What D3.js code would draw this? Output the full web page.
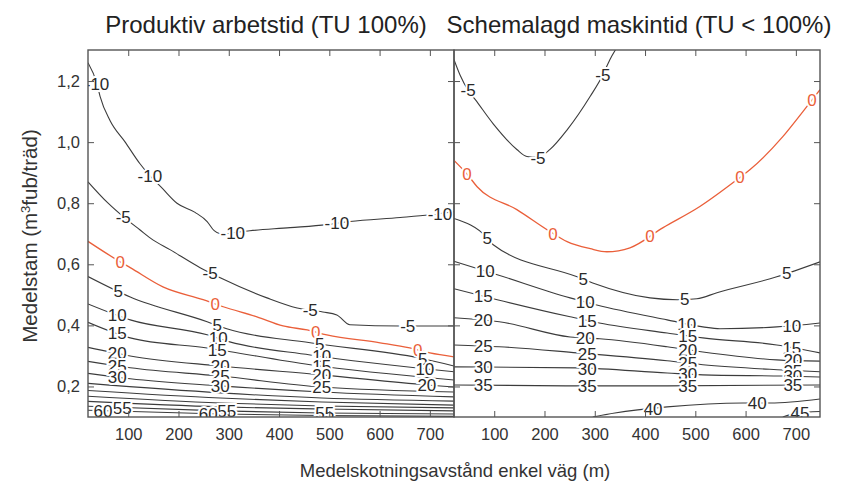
<!DOCTYPE html>
<html>
<head>
<meta charset="utf-8">
<script src="https://cdn.jsdelivr.net/npm/d3@7"></script>
<style>
  body { margin: 0; background: #fff; }
  svg { display: block; }
  text { font-family: "Liberation Sans", Arial, sans-serif; }
</style>
</head>
<body>
<svg id="chart" width="849" height="485"></svg>
<script>
const width = 849;
const height = 485;
const plotTop = 50;
const plotBottom = 417;
const panelEdges = [[88, 454], [454, 820]];
const titleCenters = [266, 639];

const red = '#ea5f3a';
const grey = '#3c3c3c';

const xDomain = [20, 748];
const yDomain = [0.1, 1.3];
const xTicks = [100, 200, 300, 400, 500, 600, 700];
const yTicks = [0.2, 0.4, 0.6, 0.8, 1.0, 1.2];
const titles = ['Produktiv arbetstid (TU 100%)', 'Schemalagd maskintid (TU < 100%)'];
const xTitle = 'Medelskotningsavstånd enkel väg (m)';

// left panel: Produktiv arbetstid
const levelsL = [-10, -5, 0, 5, 10, 15, 20, 25, 30, 35, 40, 45, 50, 55, 60];
const linesL = [
  [[20, 1.26], [38, 1.19], [44, 1.15], [64, 1.07], [94, 1.0], [123, 0.93], [143, 0.89], [167, 0.85], [197, 0.8], [233, 0.77], [257, 0.74], [271, 0.71], [283, 0.7], [342, 0.71], [422, 0.72], [495, 0.73], [541, 0.74], [641, 0.753], [700, 0.762], [748, 0.772]],
  [[20, 0.87], [60, 0.8], [90, 0.756], [123, 0.713], [149, 0.68], [183, 0.648], [243, 0.589], [283, 0.556], [376, 0.49], [436, 0.457], [487, 0.444], [515, 0.434], [541, 0.402], [641, 0.398], [748, 0.398]],
  [[20, 0.675], [84, 0.608], [104, 0.589], [169, 0.526], [249, 0.484], [289, 0.461], [356, 0.428], [408, 0.398], [456, 0.385], [495, 0.369], [601, 0.343], [660, 0.326], [700, 0.31], [748, 0.297]],
  [[20, 0.56], [104, 0.493], [257, 0.412], [296, 0.389], [462, 0.343], [680, 0.293], [748, 0.267]],
  [[20, 0.47], [104, 0.418], [257, 0.369], [302, 0.346], [462, 0.303], [748, 0.248]],
  [[20, 0.41], [104, 0.359], [257, 0.326], [462, 0.271], [748, 0.221]],
  [[20, 0.328], [104, 0.3], [283, 0.267], [485, 0.238], [694, 0.205], [748, 0.198]],
  [[20, 0.282], [104, 0.261], [283, 0.234], [485, 0.198], [748, 0.182]],
  [[20, 0.243], [104, 0.225], [283, 0.202], [485, 0.182], [748, 0.166]],
  [[20, 0.21], [283, 0.179], [485, 0.162], [748, 0.152]],
  [[20, 0.187], [283, 0.162], [485, 0.149], [748, 0.139]],
  [[20, 0.168], [283, 0.146], [485, 0.136], [748, 0.13]],
  [[20, 0.151], [283, 0.133], [485, 0.126], [748, 0.12]],
  [[20, 0.135], [283, 0.12], [485, 0.113], [748, 0.11]],
  [[20, 0.122], [283, 0.11], [485, 0.105], [748, 0.102]]
];
const labelsL = [
  [38, 143, 308, 515, 720],
  [90, 263, 462, 656],
  [84, 273, 473, 676],
  [80, 277, 481, 686],
  [78, 279, 485, 690],
  [78, 277, 485],
  [78, 283, 485, 694],
  [78, 283, 485],
  [78, 283],
  [], [], [], [],
  [88, 296, 491],
  [50, 259]
];

// right panel: Schemalagd maskintid
const levelsR = [-5, 0, 5, 10, 15, 20, 25, 30, 35, 40, 45];
const linesR = [
  [[20, 1.27], [32, 1.22], [48, 1.17], [62, 1.14], [98, 1.06], [145, 0.976], [165, 0.953], [187, 0.95], [211, 0.976], [245, 1.04], [291, 1.15], [316, 1.22], [330, 1.27], [344, 1.31]],
  [[20, 0.94], [46, 0.895], [66, 0.854], [145, 0.779], [211, 0.707], [245, 0.674], [291, 0.651], [324, 0.641], [370, 0.654], [436, 0.72], [509, 0.789], [583, 0.877], [609, 0.91], [674, 1.018], [714, 1.1], [748, 1.172]],
  [[20, 0.75], [86, 0.687], [98, 0.664], [265, 0.559], [296, 0.539], [410, 0.49], [464, 0.484], [503, 0.487], [543, 0.507], [662, 0.559], [748, 0.608]],
  [[20, 0.61], [106, 0.566], [251, 0.49], [304, 0.467], [444, 0.418], [515, 0.395], [549, 0.389], [662, 0.395], [748, 0.408]],
  [[20, 0.52], [106, 0.484], [251, 0.428], [309, 0.408], [444, 0.375], [515, 0.359], [662, 0.336], [748, 0.31]],
  [[20, 0.425], [110, 0.412], [251, 0.362], [310, 0.356], [444, 0.33], [515, 0.313], [662, 0.287], [748, 0.283]],
  [[20, 0.336], [110, 0.33], [265, 0.31], [444, 0.284], [515, 0.271], [674, 0.254], [748, 0.248]],
  [[20, 0.264], [265, 0.261], [444, 0.244], [515, 0.238], [674, 0.234], [748, 0.231]],
  [[20, 0.205], [265, 0.202], [444, 0.202], [748, 0.205]],
  [[296, 0.1], [340, 0.113], [444, 0.133], [595, 0.146], [649, 0.146], [748, 0.159]],
  [[674, 0.1], [700, 0.112], [748, 0.118]]
];
const labelsR = [
  [48, 187, 316],
  [46, 217, 410, 589, 732],
  [86, 277, 479, 682],
  [82, 281, 483, 692],
  [78, 285, 485, 692],
  [78, 281, 485, 694],
  [78, 285, 485, 694],
  [78, 285, 485, 694],
  [78, 285, 485, 694],
  [416, 623],
  [708]
];

const svg = d3.select('#chart');

const y = d3.scaleLinear().domain(yDomain).range([plotBottom, plotTop + 0.5]);

function yAt(pts, xv) {
  for (let j = 0; j < pts.length - 1; j++) {
    const a = pts[j], b = pts[j + 1];
    if (xv >= a[0] && xv <= b[0]) {
      return a[1] + (b[1] - a[1]) * (xv - a[0]) / (b[0] - a[0]);
    }
  }
  return pts[pts.length - 1][1];
}

const commaFormat = v => d3.format('.1f')(v).replace('.', ',');

function styleAxis(g) {
  g.select('.domain').remove();
  g.selectAll('line').attr('stroke', '#555').attr('stroke-width', 1);
  g.selectAll('text')
    .attr('fill', '#333')
    .style('font-size', '16.5px')
    .style('font-family', '"Liberation Sans", Arial, sans-serif');
}

function drawPanel(i, levels, lines, labelAt) {
  const [x0, x1] = panelEdges[i];
  const x = d3.scaleLinear().domain(xDomain).range([x0, x1]);

  svg.append('clipPath').attr('id', `clip${i}`)
    .append('rect')
    .attr('x', x0).attr('y', plotTop)
    .attr('width', x1 - x0).attr('height', plotBottom - plotTop);

  const g = svg.append('g').attr('clip-path', `url(#clip${i})`);
  const line = d3.line()
    .x(d => x(d[0]))
    .y(d => y(d[1]))
    .curve(d3.curveMonotoneX);

  g.selectAll('path.contour')
    .data(levels)
    .join('path')
    .attr('class', 'contour')
    .attr('d', (lv, k) => line(lines[k]))
    .attr('fill', 'none')
    .attr('stroke', lv => lv === 0 ? red : grey)
    .attr('stroke-width', lv => lv === 0 ? 1.3 : 1.1);

  const labelData = [];
  levels.forEach((lv, k) => {
    labelAt[k].forEach(lx => labelData.push({ lv, x: lx, y: yAt(lines[k], lx) }));
  });

  g.selectAll('text.clabel')
    .data(labelData)
    .join('text')
    .attr('class', 'clabel')
    .attr('x', d => x(d.x))
    .attr('y', d => y(d.y))
    .attr('dy', '0.36em')
    .attr('text-anchor', 'middle')
    .style('font-size', '17px')
    .attr('fill', d => d.lv === 0 ? red : '#2a2a2a')
    .attr('stroke', '#fff')
    .attr('stroke-width', 4)
    .attr('paint-order', 'stroke')
    .text(d => d.lv);

  // axes, ticks pointing inwards on all four sides
  svg.append('g')
    .attr('transform', `translate(0,${plotBottom})`)
    .call(d3.axisBottom(x).tickValues(xTicks).tickSizeInner(-6).tickSizeOuter(0).tickPadding(11))
    .call(styleAxis);

  svg.append('g')
    .attr('transform', `translate(0,${plotTop})`)
    .call(d3.axisTop(x).tickValues(xTicks).tickSizeInner(-6).tickSizeOuter(0).tickFormat(''))
    .call(styleAxis);

  svg.append('g')
    .attr('transform', `translate(${x0},0)`)
    .call(d3.axisLeft(y).tickValues(yTicks).tickSizeInner(-6).tickSizeOuter(0).tickPadding(8)
      .tickFormat(i === 0 ? commaFormat : ''))
    .call(styleAxis);

  svg.append('g')
    .attr('transform', `translate(${x1},0)`)
    .call(d3.axisRight(y).tickValues(yTicks).tickSizeInner(-6).tickSizeOuter(0).tickFormat(''))
    .call(styleAxis);

  svg.append('rect')
    .attr('x', x0).attr('y', plotTop)
    .attr('width', x1 - x0).attr('height', plotBottom - plotTop)
    .attr('fill', 'none')
    .attr('stroke', '#555')
    .attr('stroke-width', 1.4);

  svg.append('text')
    .attr('x', titleCenters[i])
    .attr('y', 33)
    .attr('text-anchor', 'middle')
    .style('font-size', '24px')
    .attr('fill', '#222')
    .text(titles[i]);
}

drawPanel(0, levelsL, linesL, labelsL);
drawPanel(1, levelsR, linesR, labelsR);

svg.append('text')
  .attr('x', 455)
  .attr('y', 477)
  .attr('text-anchor', 'middle')
  .style('font-size', '18.5px')
  .attr('fill', '#333')
  .text(xTitle);

const yTitle = svg.append('text')
  .attr('transform', 'translate(37,236) rotate(-90)')
  .attr('text-anchor', 'middle')
  .style('font-size', '20.5px')
  .attr('fill', '#333');
yTitle.append('tspan').text('Medelstam (m');
yTitle.append('tspan').attr('baseline-shift', 'super').style('font-size', '13px').text('3');
yTitle.append('tspan').text('fub/träd)');
</script>
</body>
</html>
